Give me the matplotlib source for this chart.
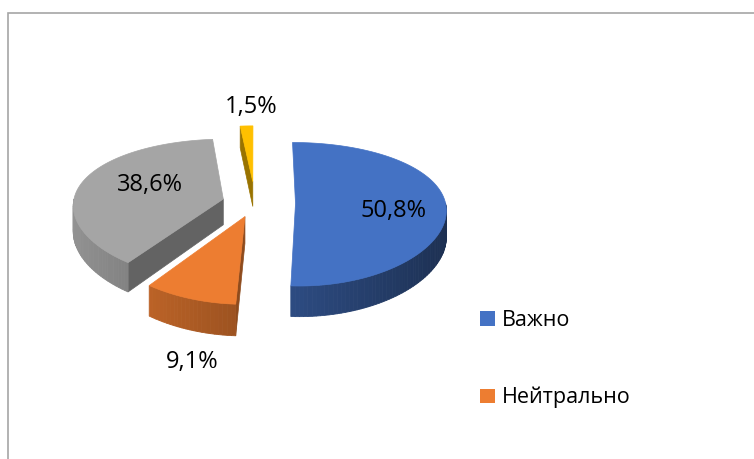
import numpy as np
import matplotlib
matplotlib.use('Agg')
import matplotlib.pyplot as plt
from matplotlib.colors import to_rgb
from matplotlib.patches import Polygon, Patch, Rectangle

plt.rcParams['font.family'] = ['Open Sans', 'DejaVu Sans']

# data
categories = ['Важно', 'Нейтрально', 'Не важно', 'Затрудняюсь ответить']
values = [50.8, 9.1, 38.6, 1.5]
labels = ['50,8%', '9,1%', '38,6%', '1,5%']
colors = ['#4472C4', '#ED7D31', '#A5A5A5', '#FFC000']
explode = [0.27, 0.20, 0.22, 0.32]

# layout of the 3d pie, in pixels
CX, CY = 255, 203
RX, RY = 150, 70
DEPTH = 26
QX, QY = 0.08, 0.15          # perspective strength
label_pos = [(393, 211), (192.5, 362), (149.5, 185), (251, 106.5)]


def shade(c, f):
    return np.clip(np.array(to_rgb(c)) * f, 0, 1)


def proj(u, v, h=0.0):
    # u: right, v: back (units of radius), h: 0 top face, 1 bottom
    kx = 1 / (1 + QX * v)
    ky = 1 / (1 + QY * v)
    return CX + RX * u * kx, CY - RY * v * ky + h * DEPTH * ky


fig = plt.figure(figsize=(7.54, 4.59), dpi=100)
ax = fig.add_axes([0, 0, 1, 1])
ax.set_xlim(0, 754)
ax.set_ylim(459, 0)
ax.axis('off')

# chart area border (cut off at right and bottom)
fig.add_artist(Rectangle((7.5 / 754, -0.5), 2, 1.5 - 12.5 / 459,
                         transform=fig.transFigure, fill=False,
                         ec='#A6A6A6', lw=1.2))

total = sum(values)
starts = np.concatenate([[0], np.cumsum(values)[:-1]]) / total * 360
ends = np.cumsum(values) / total * 360

slices = []
for i in range(len(values)):
    mid = np.radians((starts[i] + ends[i]) / 2)
    slices.append((-explode[i] * np.cos(mid), explode[i] * np.sin(mid), i))

# back to front
for nv, eu, i in sorted(slices):
    ev = -nv
    s, e, c = starts[i], ends[i], colors[i]

    def rim(th, h=0.0):
        t = np.radians(th)
        return proj(eu + np.sin(t), ev + np.cos(t), h)

    # radial cut faces
    for th, vis in [(s, np.sin(np.radians(s)) < -1e-9),
                    (e, np.sin(np.radians(e)) > 1e-9)]:
        if vis:
            col = shade(c, 0.6)
            ax.add_patch(Polygon([proj(eu, ev), rim(th), rim(th, 1), proj(eu, ev, 1)],
                                 closed=True, fc=col, ec=col, lw=0.5))

    # outer wall, front half only
    a0, a1 = max(s, 90), min(e, 270)
    if a1 > a0:
        angs = np.linspace(a0, a1, int((a1 - a0) / 1.5) + 2)
        for t0, t1 in zip(angs[:-1], angs[1:]):
            f = 0.65 + 0.24 * (-np.sin(np.radians((t0 + t1) / 2)))
            col = shade(c, f)
            ax.add_patch(Polygon([rim(t0), rim(t1), rim(t1, 1), rim(t0, 1)],
                                 closed=True, fc=col, ec=col, lw=0.6))

    # top face
    angs = np.linspace(s, e, max(int(e - s), 2) + 1)
    pts = [proj(eu, ev)] + [rim(t) for t in angs]
    ax.add_patch(Polygon(pts, closed=True, fc=c, ec=c, lw=0.5))

for (x, y), lab in zip(label_pos, labels):
    ax.text(x, y, lab, ha='center', va='center', fontsize=17, color='#000000')

# only the first two legend entries fit inside the visible area
handles = [Patch(fc=colors[i], ec='none', label=categories[i]) for i in range(2)]
ax.legend(handles=handles, loc='upper left', bbox_to_anchor=(480 / 754, 1 - 310 / 459),
          frameon=False, fontsize=15.5, handlelength=0.68, handleheight=0.68,
          handletextpad=0.35, labelspacing=2.6, borderpad=0, borderaxespad=0)

fig.savefig('out.png', dpi=100)
